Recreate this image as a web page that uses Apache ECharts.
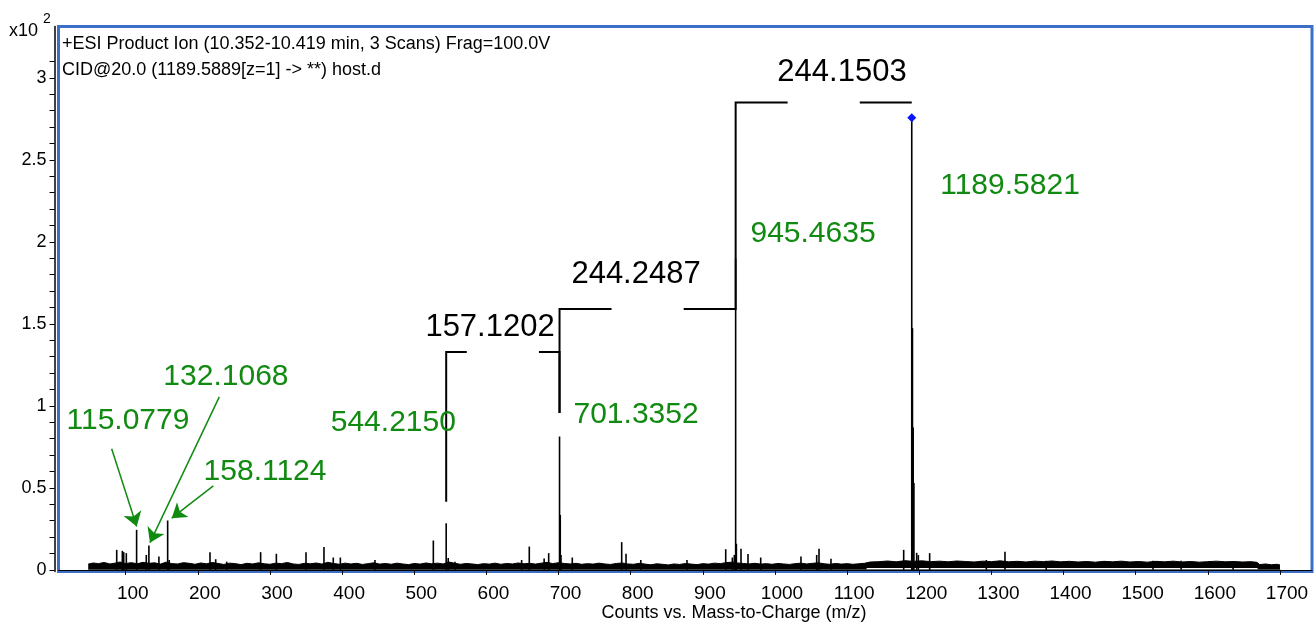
<!DOCTYPE html>
<html>
<head>
<meta charset="utf-8">
<script src="https://cdn.jsdelivr.net/npm/echarts@6/dist/echarts.min.js"></script>
<style>
  html, body { margin: 0; padding: 0; background: #fff; }
  #chart { width: 1315px; height: 625px; }
</style>
</head>
<body>
<div id="chart"></div>
<script>
// axis ticks (x: m/z, y: counts x10^2)
const xTicks = [100, 200, 300, 400, 500, 600, 700, 800, 900, 1000, 1100, 1200, 1300, 1400, 1500, 1600, 1700];
const yLabels = [0, 0.5, 1, 1.5, 2, 2.5, 3];
const yTicks = [0, 0.1, 0.2, 0.3, 0.4, 0.5, 0.6, 0.7, 0.8, 0.9, 1, 1.1, 1.2, 1.3, 1.4, 1.5, 1.6, 1.7, 1.8, 1.9,
  2, 2.1, 2.2, 2.3, 2.4, 2.5, 2.6, 2.7, 2.8, 2.9, 3, 3.1];

// centroid peaks
const peakMz = [87.5, 95.3, 97.2, 100.8, 115.0779, 128.5, 132.1068, 146, 158.1124, 160.2, 216.8, 224.7, 240,
  287, 308.8, 349.9, 374.8, 387.7, 397.5, 445.5, 526.4, 544.2150, 547, 556.4, 648.8, 659.4, 680, 686.3,
  701.3352, 702.34, 703.34, 719, 787.5, 793.5, 814, 878, 931.7, 940.9, 943.6, 945.4635, 946.47, 952.9,
  962.6, 980.2, 1036, 1057.8, 1061, 1077.6, 1178.4, 1189.5821, 1190.58, 1191.58, 1192.58, 1196.4, 1198.7,
  1214.4, 1293, 1318.8, 1376, 1524, 1563, 1635];
const peakInt = [0.122, 0.116, 0.108, 0.102, 0.244, 0.091, 0.148, 0.081, 0.301, 0.06, 0.108, 0.065, 0.05,
  0.108, 0.098, 0.108, 0.14, 0.075, 0.075, 0.06, 0.179, 0.284, 0.073, 0.05, 0.06, 0.142, 0.07, 0.102,
  0.813, 0.335, 0.09, 0.075, 0.169, 0.098, 0.06, 0.06, 0.126, 0.075, 0.091, 1.9, 0.159, 0.128,
  0.096, 0.075, 0.081, 0.091, 0.128, 0.068, 0.122, 2.757, 1.474, 0.868, 0.53, 0.104, 0.09,
  0.102, 0.06, 0.11, 0.055, 0.055, 0.055, 0.05];

// baseline noise envelope
const noise = [[48, 0.035], [55, 0.042], [62, 0.038], [70, 0.045], [78, 0.036], [85, 0.041], [92, 0.048],
  [100, 0.039], [108, 0.044], [116, 0.037], [124, 0.046], [132, 0.04], [140, 0.043], [148, 0.035],
  [156, 0.047], [164, 0.038], [172, 0.036], [180, 0.044], [188, 0.04], [196, 0.034], [204, 0.042],
  [212, 0.037], [220, 0.045], [228, 0.039], [236, 0.033], [244, 0.041], [252, 0.038], [260, 0.032],
  [268, 0.04], [276, 0.036], [284, 0.043], [292, 0.037], [300, 0.034], [308, 0.041], [316, 0.038],
  [324, 0.045], [332, 0.036], [340, 0.033], [348, 0.04], [356, 0.037], [364, 0.042], [372, 0.035],
  [380, 0.046], [388, 0.039], [396, 0.034], [404, 0.041], [412, 0.036], [420, 0.04], [428, 0.033],
  [436, 0.038], [444, 0.043], [452, 0.035], [460, 0.039], [468, 0.034], [476, 0.041], [484, 0.036],
  [492, 0.032], [500, 0.039], [508, 0.035], [516, 0.042], [524, 0.037], [532, 0.041], [540, 0.036],
  [548, 0.048], [556, 0.04], [564, 0.034], [572, 0.039], [580, 0.036], [588, 0.032], [596, 0.038],
  [604, 0.035], [612, 0.041], [620, 0.034], [628, 0.039], [636, 0.036], [644, 0.042], [652, 0.037],
  [660, 0.04], [668, 0.035], [676, 0.041], [684, 0.046], [692, 0.038], [700, 0.044], [708, 0.039],
  [716, 0.036], [724, 0.04], [732, 0.034], [740, 0.038], [748, 0.035], [756, 0.041], [764, 0.036],
  [772, 0.033], [780, 0.039], [788, 0.042], [796, 0.036], [804, 0.034], [812, 0.04], [820, 0.035],
  [828, 0.031], [836, 0.037], [844, 0.034], [852, 0.03], [860, 0.036], [868, 0.033], [876, 0.039],
  [884, 0.035], [892, 0.032], [900, 0.038], [908, 0.035], [916, 0.041], [924, 0.038], [932, 0.044],
  [940, 0.047], [948, 0.042], [956, 0.039], [964, 0.036], [972, 0.04], [980, 0.035], [988, 0.038],
  [996, 0.034], [1004, 0.039], [1012, 0.036], [1020, 0.033], [1028, 0.038], [1036, 0.041], [1044, 0.036],
  [1052, 0.04], [1060, 0.043], [1068, 0.037], [1076, 0.034], [1084, 0.039], [1092, 0.035], [1100, 0.038],
  [1108, 0.034], [1116, 0.037], [1124, 0.04], [1132, 0.048], [1144, 0.05], [1156, 0.054], [1168, 0.049],
  [1180, 0.056], [1192, 0.052], [1204, 0.055], [1216, 0.05], [1228, 0.053], [1240, 0.049], [1252, 0.054],
  [1264, 0.051], [1276, 0.048], [1288, 0.053], [1300, 0.05], [1312, 0.055], [1324, 0.049], [1336, 0.052],
  [1348, 0.048], [1360, 0.053], [1372, 0.05], [1384, 0.054], [1396, 0.049], [1408, 0.052], [1420, 0.048],
  [1432, 0.051], [1444, 0.047], [1456, 0.052], [1468, 0.049], [1480, 0.053], [1492, 0.048], [1504, 0.051],
  [1516, 0.047], [1528, 0.052], [1540, 0.049], [1552, 0.053], [1564, 0.048], [1576, 0.051], [1588, 0.047],
  [1600, 0.05], [1612, 0.053], [1624, 0.049], [1636, 0.051], [1648, 0.048], [1660, 0.05], [1668, 0.046],
  [1672, 0.032], [1680, 0.036], [1688, 0.031], [1696, 0.034], [1700, 0.03]];
const noiseGap = [[1127, 0.008], [1669, 0.008]];

const precursor = [1189.5821, 2.757];

// mass-difference brackets
const bracketFrom = [544.2150, 701.3352, 945.4635];
const bracketTo = [701.3352, 945.4635, 1189.5821];
const bracketLevel = [1.329, 1.591, 2.849];
const bracketLowL = [0.415, 0.957, 1.9];
const bracketLowR = [0.957, 1.9, 2.849];
const bracketText = ['157.1202', '244.2487', '244.1503'];
const bracketTextAt = [[605, 1.476], [807.4, 1.799], [1092.9, 3.03]];

// peak labels and arrows
const peakLabels = ['115.0779', '132.1068', '158.1124', '544.2150', '701.3352', '945.4635', '1189.5821'];
const peakLabelAt = [[103.1, 0.909], [238.9, 1.177], [293.1, 0.598], [470.9, 0.896], [807.4, 0.945],
  [1052.7, 2.049], [1325.8, 2.341]];
const arrowFrom = [[80.5, 0.738], [229.7, 1.055], [221.4, 0.512]];
const arrowTo = [[115.2, 0.264], [133.6, 0.166], [163.7, 0.315]];

const FONT = 'Liberation Sans, Arial, Helvetica, sans-serif';
const GREEN = '#118a11';

const bracketLines = [];
bracketFrom.forEach((from, i) => {
  const to = bracketTo[i];
  const mid = (from + to) / 2;
  const lv = bracketLevel[i];
  bracketLines.push({ coords: [[from, bracketLowL[i]], [from, lv], [mid - 50, lv]] });
  bracketLines.push({ coords: [[mid + 50, lv], [to, lv], [to, bracketLowR[i]]] });
});

const chart = echarts.init(document.getElementById('chart'));
chart.setOption({
  animation: false,
  textStyle: { fontFamily: FONT },
  grid: {
    left: 58.5, top: 26.5, right: 3, bottom: 53.5,
    show: true, borderColor: '#3d6fc6', borderWidth: 3, backgroundColor: 'transparent'
  },
  xAxis: {
    type: 'value', min: 6.8, max: 1744.4, offset: 2.5,
    axisLine: { show: true, lineStyle: { color: '#000', width: 1 } },
    axisTick: { show: true, length: 5, customValues: xTicks, lineStyle: { color: '#000' } },
    axisLabel: {
      customValues: xTicks, fontSize: 19, color: '#000', margin: 10,
      padding: [0, 0, 0, 14], fontFamily: FONT,
      formatter: (v) => String(v)
    },
    splitLine: { show: false }
  },
  yAxis: {
    type: 'value', min: -0.01, max: 3.313, offset: 4,
    axisLine: { show: true, lineStyle: { color: '#000', width: 1.5 } },
    axisTick: { show: true, length: 5, customValues: yTicks, lineStyle: { color: '#000' } },
    axisLabel: { customValues: yLabels, fontSize: 18, color: '#000', margin: 8, fontFamily: FONT },
    splitLine: { show: false }
  },
  series: [
    {
      type: 'line', data: noise, symbol: 'none', z: 2,
      lineStyle: { color: '#000', width: 1 },
      areaStyle: { color: '#000', opacity: 1 }
    },
    {
      type: 'line', data: noiseGap, symbol: 'none', z: 3,
      lineStyle: { color: '#fff', width: 1.2 }
    },
    {
      type: 'bar', z: 4, barWidth: 1.6,
      data: peakMz.map((m, i) => [m, peakInt[i]]),
      itemStyle: { color: '#000' }
    },
    {
      type: 'lines', coordinateSystem: 'cartesian2d', polyline: true, z: 5,
      data: bracketLines,
      lineStyle: { color: '#000', width: 2, opacity: 1 }
    },
    {
      type: 'lines', coordinateSystem: 'cartesian2d', z: 5,
      symbol: ['none', 'arrow'], symbolSize: [10, 14],
      data: arrowFrom.map((p, i) => ({ coords: [p, arrowTo[i]] })),
      lineStyle: { color: GREEN, width: 1.5, opacity: 1 }
    },
    {
      type: 'scatter', z: 6, symbol: 'diamond', symbolSize: 9,
      data: [precursor], itemStyle: { color: '#0a14ff', opacity: 1 }
    },
    {
      type: 'scatter', z: 6, symbolSize: 1, itemStyle: { color: 'rgba(0,0,0,0)', opacity: 1 },
      data: peakLabels.map((t, i) => ({ name: t, value: peakLabelAt[i] })),
      label: { show: true, position: 'inside', formatter: '{b}', fontSize: 30, color: GREEN, fontFamily: FONT }
    },
    {
      type: 'scatter', z: 6, symbolSize: 1, itemStyle: { color: 'rgba(0,0,0,0)', opacity: 1 },
      data: bracketText.map((t, i) => ({ name: t, value: bracketTextAt[i] })),
      label: { show: true, position: 'inside', formatter: '{b}', fontSize: 31, color: '#000', fontFamily: FONT }
    }
  ],
  graphic: [
    { type: 'text', left: 9, top: 22, style: { text: 'x10', fontSize: 18, fill: '#000', fontFamily: FONT } },
    { type: 'text', left: 43, top: 12, style: { text: '2', fontSize: 14, fill: '#000', fontFamily: FONT } },
    {
      type: 'text', left: 62, top: 35,
      style: { text: '+ESI Product Ion (10.352-10.419 min, 3 Scans) Frag=100.0V', fontSize: 18, fill: '#000', fontFamily: FONT }
    },
    {
      type: 'text', left: 62, top: 61,
      style: { text: 'CID@20.0 (1189.5889[z=1] -> **) host.d', fontSize: 18, fill: '#000', fontFamily: FONT }
    },
    {
      type: 'text', x: 734, y: 613,
      style: {
        text: 'Counts vs. Mass-to-Charge (m/z)', fontSize: 18, fill: '#000', fontFamily: FONT,
        align: 'center', verticalAlign: 'middle'
      }
    }
  ]
});
</script>
</body>
</html>
